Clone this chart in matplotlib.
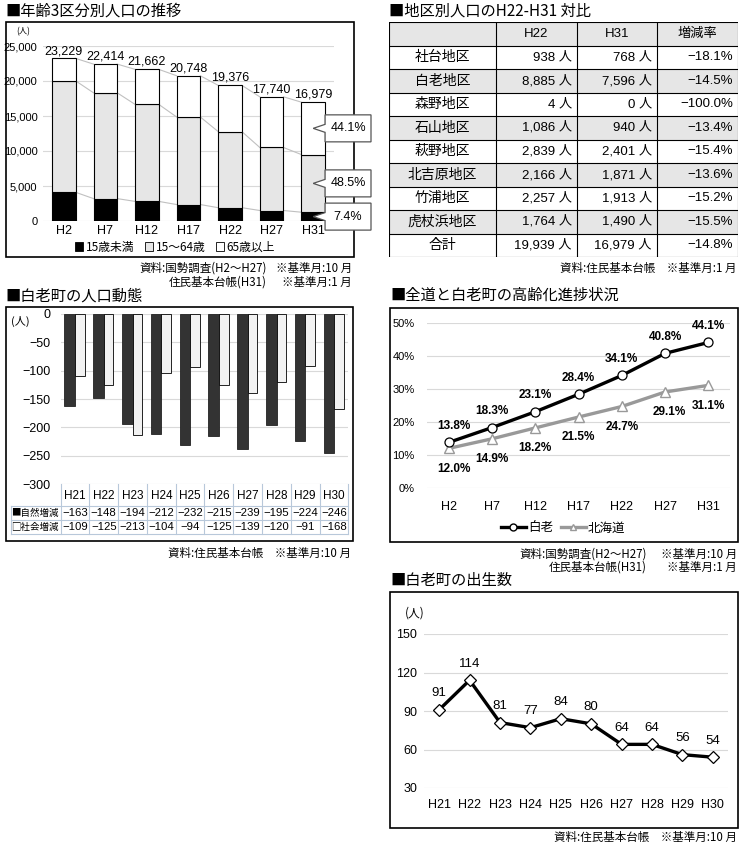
import matplotlib
matplotlib.use('Agg')
import matplotlib.pyplot as plt
from matplotlib import font_manager
from matplotlib.patches import Rectangle, Polygon, Patch
from matplotlib.lines import Line2D
import numpy as np

W, H = 745, 844

# --- data ---
years_a = ['H2', 'H7', 'H12', 'H17', 'H22', 'H27', 'H31']
totals = [23229, 22414, 21662, 20748, 19376, 17740, 16979]
under15 = [4100, 3200, 2800, 2350, 1900, 1500, 1256]
age15_64 = [15923, 15112, 13858, 12506, 10869, 9002, 8235]
over65 = [3206, 4102, 5004, 5892, 6607, 7238, 7488]
share_h31 = ['7.4%', '48.5%', '44.1%']

districts = ['社台地区', '白老地区', '森野地区', '石山地区', '萩野地区',
             '北吉原地区', '竹浦地区', '虎杖浜地区', '合計']
pop_h22 = [938, 8885, 4, 1086, 2839, 2166, 2257, 1764, 19939]
pop_h31 = [768, 7596, 0, 940, 2401, 1871, 1913, 1490, 16979]
change = [-18.1, -14.5, -100.0, -13.4, -15.4, -13.6, -15.2, -15.5, -14.8]

years_b = ['H21', 'H22', 'H23', 'H24', 'H25', 'H26', 'H27', 'H28', 'H29', 'H30']
natural = [-163, -148, -194, -212, -232, -215, -239, -195, -224, -246]
social = [-109, -125, -213, -104, -94, -125, -139, -120, -91, -168]

shiraoi_rate = [13.8, 18.3, 23.1, 28.4, 34.1, 40.8, 44.1]
hokkaido_rate = [12.0, 14.9, 18.2, 21.5, 24.7, 29.1, 31.1]

births = [91, 114, 81, 77, 84, 80, 64, 64, 56, 54]

# --- fonts ---
names = {f.name for f in font_manager.fontManager.ttflist}
NUM = 'Liberation Sans Narrow' if 'Liberation Sans Narrow' in names else 'Liberation Sans'
JP = ['Noto Sans CJK JP', 'DejaVu Sans']
NUMF = [NUM, 'Noto Sans CJK JP', 'DejaVu Sans']
plt.rcParams['font.family'] = JP
plt.rcParams['axes.unicode_minus'] = True

fig = plt.figure(figsize=(W / 100, H / 100), dpi=100)


def ax_px(x0, y0, x1, y1):
    a = fig.add_axes([x0 / W, 1 - y1 / H, (x1 - x0) / W, (y1 - y0) / H])
    a.set_facecolor('none')
    return a


def frame(x0, y0, x1, y1):
    fig.add_artist(Rectangle((x0 / W, 1 - y1 / H), (x1 - x0) / W, (y1 - y0) / H,
                             transform=fig.transFigure, fill=False, ec='black',
                             lw=1.2, zorder=-1))


def ftext(x, y, s, **kw):
    kw.setdefault('va', 'center')
    fig.text(x / W, 1 - y / H, s, **kw)


def clean(a):
    for s in a.spines.values():
        s.set_visible(False)
    a.tick_params(length=0)


GRID = '#d9d9d9'
SRC = 8.3

# ======================= 1. 年齢3区分別人口の推移 =======================
ftext(5, 11, '■年齢3区分別人口の推移', fontsize=11)
frame(6, 22, 354, 257)
ax1 = ax_px(43, 46, 334, 221)
x = np.arange(len(years_a))
bw = 0.57
u = np.array(under15)
m = np.array(age15_64)
o = np.array(over65)
ax1.bar(x, u, bw, color='black', ec='black', lw=0.8, zorder=3)
ax1.bar(x, m, bw, bottom=u, color='#e6e6e6', ec='black', lw=0.8, zorder=3)
ax1.bar(x, o, bw, bottom=u + m, color='white', ec='black', lw=0.8, zorder=3)
for lvl in (u, u + m, u + m + o):
    for i in range(len(x) - 1):
        ax1.plot([x[i] + bw / 2, x[i + 1] - bw / 2], [lvl[i], lvl[i + 1]],
                 color='#c0c0c0', lw=0.8, zorder=2)
for xi, t in zip(x, totals):
    ax1.annotate(f'{t:,}', (xi, t), xytext=(0, 1), textcoords='offset points',
                 ha='center', va='bottom', fontsize=9, family=NUMF)
ax1.set_xlim(-0.5, len(x) - 0.5)
ax1.set_ylim(0, 25000)
ax1.set_yticks(range(0, 25001, 5000))
ax1.set_yticklabels([f'{v:,}' for v in range(0, 25001, 5000)], family=NUMF, fontsize=8)
ax1.set_xticks(x)
ax1.set_xticklabels(years_a, family=NUMF, fontsize=9)
ax1.grid(axis='y', color=GRID, lw=0.8, zorder=0)
ax1.set_axisbelow(True)
clean(ax1)
ax1.tick_params(axis='y', pad=4)
ax1.tick_params(axis='x', pad=3)
ftext(23, 32, '(人)', fontsize=6, ha='center')

# callouts for H31 shares
px_x = 291 / 7          # pixels per category
px_y = 175 / 25000      # pixels per person
bx0 = x[-1] + bw / 2
bx1 = x[-1] + 0.5 + (371 - 334) / px_x
bh = 27 / px_y
dn = 4 / px_y
mids = [u[-1] / 2, u[-1] + m[-1] / 2, u[-1] + m[-1] + o[-1] / 2]
for c, lab in zip(mids, share_h31):
    tip = (x[-1], c)
    pts = [(bx0, c + bh / 2), (bx1, c + bh / 2), (bx1, c - bh / 2), (bx0, c - bh / 2),
           (bx0, c - dn), tip, (bx0, c + dn)]
    ax1.add_patch(Polygon(pts, closed=True, fc='white', ec='#555555', lw=0.9,
                          clip_on=False, zorder=5))
    ax1.text((bx0 + bx1) / 2, c, lab, ha='center', va='center', fontsize=9,
             family=NUMF, zorder=6)

ax1.legend(handles=[Patch(fc='black', ec='black', lw=0.6),
                    Patch(fc='#e6e6e6', ec='black', lw=0.6),
                    Patch(fc='white', ec='black', lw=0.6)],
           labels=['15歳未満', '15～64歳', '65歳以上'],
           loc='center', bbox_to_anchor=(175 / W, 1 - 247 / H),
           bbox_transform=fig.transFigure, ncol=3, frameon=False, fontsize=8.5,
           handlelength=0.7, handleheight=0.7, handletextpad=0.2,
           columnspacing=0.9, borderpad=0)

ftext(267, 268, '資料:国勢調査(H2～H27)', fontsize=SRC, ha='right')
ftext(352, 268, '※基準月:10 月', fontsize=SRC, ha='right')
ftext(267, 282, '住民基本台帳(H31)', fontsize=SRC, ha='right')
ftext(352, 282, '※基準月:1 月', fontsize=SRC, ha='right')

# ======================= 2. 地区別人口のH22-H31 対比 =======================
ftext(389, 11, '■地区別人口のH22-H31 対比', fontsize=11)
tb = ax_px(389, 22, 738, 257)
tb.set_xlim(389, 738)
tb.set_ylim(257, 22)
tb.axis('off')
cols = [389, 496, 577, 657, 738]
nrows = len(districts) + 1
rh = (257 - 22) / nrows
for r in range(nrows):
    y0 = 22 + r * rh
    shade = (r == 0) or (r in (2, 4, 6, 8))
    if shade:
        tb.add_patch(Rectangle((389, y0), 738 - 389, rh, fc='#e6e6e6', ec='none', zorder=1))
for r in range(nrows + 1):
    tb.plot([389, 738], [22 + r * rh] * 2, color='black', lw=0.8, zorder=2)
for cx in cols:
    tb.plot([cx, cx], [22, 257], color='black', lw=0.8, zorder=2)
hdr = ['H22', 'H31', '増減率']
for j, s in enumerate(hdr):
    tb.text((cols[j + 1] + cols[j + 2]) / 2, 22 + rh / 2, s, ha='center', va='center',
            fontsize=9.5, family=NUMF, zorder=3)
for i, name in enumerate(districts):
    yc = 22 + (i + 1.5) * rh
    tb.text((cols[0] + cols[1]) / 2, yc, name, ha='center', va='center', fontsize=10, zorder=3)
    tb.text(cols[2] - 5, yc, f'{pop_h22[i]:,} 人', ha='right', va='center', fontsize=9.5,
            family=NUMF, zorder=3)
    tb.text(cols[3] - 5, yc, f'{pop_h31[i]:,} 人', ha='right', va='center', fontsize=9.5,
            family=NUMF, zorder=3)
    tb.text(cols[4] - 5, yc, f'{change[i]:.1f}%'.replace('-', '−'), ha='right',
            va='center', fontsize=9.5, family=NUMF, zorder=3)
ftext(737, 268, '資料:住民基本台帳　※基準月:1 月', fontsize=SRC, ha='right')

# ======================= 3. 白老町の人口動態 =======================
ftext(5, 296, '■白老町の人口動態', fontsize=11)
frame(6, 307, 353, 541)
ax3 = ax_px(60.6, 314, 348.4, 484)
xb = np.arange(len(years_b))
ax3.bar(xb - 0.18, natural, 0.37, color='#333333', ec='#222222', lw=0.6, zorder=3)
ax3.bar(xb + 0.17, social, 0.33, color='#f2f2f2', ec='black', lw=0.6, zorder=3)
ax3.set_xlim(-0.5, len(xb) - 0.5)
ax3.set_ylim(-300, 0)
ax3.set_yticks(range(-300, 1, 50))
ax3.set_yticklabels([f'{v}'.replace('-', '−') for v in range(-300, 1, 50)],
                    family=NUMF, fontsize=9)
ax3.set_xticks([])
ax3.grid(axis='y', color=GRID, lw=0.8, zorder=0)
ax3.set_axisbelow(True)
clean(ax3)
ax3.tick_params(axis='y', pad=7)
ftext(20, 321, '(人)', fontsize=8, ha='center')

# data table under the bars
dt = ax_px(0, 480, 360, 540)
dt.set_xlim(0, 360)
dt.set_ylim(540, 480)
dt.axis('off')
TBL = '#b8c8da'
cw = (348.4 - 60.6) / len(xb)
col_x = [60.6 + k * cw for k in range(len(xb) + 1)]
rows_y = [484, 506, 520, 534]
for yy in rows_y[1:]:
    dt.plot([11, 348.4], [yy, yy], color=TBL, lw=0.8)
dt.plot([11, 11], [506, 534], color=TBL, lw=0.8)
for cx in col_x:
    dt.plot([cx, cx], [484, 534], color=TBL, lw=0.8)
for k, yr in enumerate(years_b):
    cx = (col_x[k] + col_x[k + 1]) / 2
    dt.text(cx, 496, yr, ha='center', va='center', fontsize=8.5, family=NUMF)
    dt.text(cx, 513, f'{natural[k]}'.replace('-', '−'), ha='center', va='center',
            fontsize=8.2, family=NUMF)
    dt.text(cx, 527.5, f'{social[k]}'.replace('-', '−'), ha='center', va='center',
            fontsize=8.2, family=NUMF)
dt.text(11.5, 513, '■自然増減', ha='left', va='center', fontsize=6.8)
dt.text(11.5, 527.5, '□社会増減', ha='left', va='center', fontsize=6.8)
ftext(351, 553, '資料:住民基本台帳　※基準月:10 月', fontsize=SRC, ha='right')

# ======================= 4. 全道と白老町の高齢化進捗状況 =======================
ftext(390, 295, '■全道と白老町の高齢化進捗状況', fontsize=11)
frame(390, 308, 738, 542)
ax4 = ax_px(427, 323, 730, 488)
xa = np.arange(len(years_a))
ax4.plot(xa, hokkaido_rate, color='#999999', lw=2.4, marker='^', ms=6.5,
         mfc='white', mec='#999999', mew=1.0, zorder=3, clip_on=False, label='北海道')
ax4.plot(xa, shiraoi_rate, color='black', lw=2.4, marker='o', ms=6.5,
         mfc='white', mec='black', mew=0.9, zorder=4, clip_on=False, label='白老')
for i, v in enumerate(shiraoi_rate):
    dx = 4 if i == 0 else 0
    ax4.annotate(f'{v:.1f}%', (xa[i], v), xytext=(dx, 12), textcoords='offset points',
                 ha='center', va='center', fontsize=8.5, fontweight='bold',
                 family=NUMF, annotation_clip=False)
for i, v in enumerate(hokkaido_rate):
    dx = 4 if i == 0 else (3 if i == 5 else 0)
    ax4.annotate(f'{v:.1f}%', (xa[i], v), xytext=(dx, -14.5), textcoords='offset points',
                 ha='center', va='center', fontsize=8.5, fontweight='bold',
                 family=NUMF, annotation_clip=False)
ax4.set_xlim(-0.5, len(xa) - 0.5)
ax4.set_ylim(0, 50)
ax4.set_yticks(range(0, 51, 10))
ax4.set_yticklabels([f'{v}%' for v in range(0, 51, 10)], family=NUMF, fontsize=8)
ax4.set_xticks(xa)
ax4.set_xticklabels(years_a, family=NUMF, fontsize=9)
ax4.grid(axis='y', color=GRID, lw=0.8, zorder=0)
ax4.set_axisbelow(True)
clean(ax4)
ax4.tick_params(axis='y', pad=9)
ax4.tick_params(axis='x', pad=9)
ax4.legend(handles=[Line2D([], [], color='black', lw=2.4, marker='o', ms=5, mfc='white', mec='black'),
                    Line2D([], [], color='#999999', lw=2.4, marker='^', ms=5, mfc='white', mec='#999999')],
           labels=['白老', '北海道'], loc='center', bbox_to_anchor=(563 / W, 1 - 528 / H),
           bbox_transform=fig.transFigure, ncol=2, frameon=False, fontsize=9,
           handlelength=2.0, handletextpad=0.2, columnspacing=0.6, borderpad=0)
ftext(647, 554, '資料:国勢調査(H2～H27)', fontsize=SRC, ha='right')
ftext(737, 554, '※基準月:10 月', fontsize=SRC, ha='right')
ftext(647, 567, '住民基本台帳(H31)', fontsize=SRC, ha='right')
ftext(737, 567, '※基準月:1 月', fontsize=SRC, ha='right')

# ======================= 5. 白老町の出生数 =======================
ftext(390, 581, '■白老町の出生数', fontsize=11)
frame(390, 592, 738, 828)
ax5 = ax_px(424, 634, 728, 788)
xb5 = np.arange(len(years_b))
ax5.plot(xb5, births, color='black', lw=2.4, marker='D', ms=6, mfc='white',
         mec='black', mew=0.9, zorder=3, clip_on=False)
for i, v in enumerate(births):
    ax5.annotate(f'{v}', (xb5[i], v), xytext=(0, 12), textcoords='offset points',
                 ha='center', va='center', fontsize=9.5, family=NUMF, annotation_clip=False)
ax5.set_xlim(-0.5, len(xb5) - 0.5)
ax5.set_ylim(30, 150)
ax5.set_yticks(range(30, 151, 30))
ax5.set_yticklabels([str(v) for v in range(30, 151, 30)], family=NUMF, fontsize=9)
ax5.set_xticks(xb5)
ax5.set_xticklabels(years_b, family=NUMF, fontsize=9)
ax5.grid(axis='y', color=GRID, lw=0.8, zorder=0)
ax5.set_axisbelow(True)
clean(ax5)
ax5.tick_params(axis='y', pad=5)
ax5.tick_params(axis='x', pad=8)
ftext(415, 613, '(人)', fontsize=8.5, ha='center')
ftext(737, 837, '資料:住民基本台帳　※基準月:10 月', fontsize=SRC, ha='right')

fig.savefig('out.png', dpi=100)
